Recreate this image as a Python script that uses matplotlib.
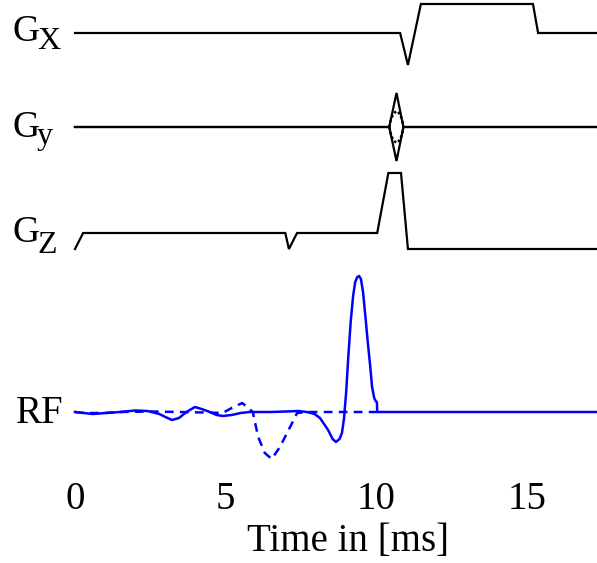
import numpy as np
import matplotlib
matplotlib.use("Agg")
import matplotlib.pyplot as plt

# ===== data (time in ms, amplitude in arbitrary units ~ pixels) =====
gx_t = [0, 10.79, 11.05, 11.48, 15.2, 15.37, 17.4]
gx_a = [0, 0, -32, 29, 29, 0, 0]

gy_t = [0, 10.43, 10.67, 10.9, 17.4]
gy_a = [0, 0, 34, 0, 0]
gy_inner_t = [10.43, 10.48, 10.56, 10.67, 10.78, 10.86, 10.9]
gy_inner_a = [0, 7, 13, 16, 13, 7, 0]

gz_t = [0, 0.27, 6.98, 7.1, 7.37, 10.03, 10.4, 10.82, 11.05, 17.4]
gz_a = [-16, 0, 0, -16, 0, 0, 60, 60, -16, -16]

rf_re_t = [0.0, 0.3, 0.6, 1.0, 1.5, 2.0, 2.4, 2.8, 3.0, 3.22, 3.45, 3.7, 3.98,
           4.2, 4.48, 4.7, 4.91, 5.2, 5.5, 5.8, 6.5, 7.0, 7.4, 7.7, 7.95, 8.13,
           8.4, 8.55, 8.66, 8.78, 8.86, 8.93, 9.0, 9.07, 9.15, 9.23, 9.3, 9.37,
           9.43, 9.49, 9.56, 9.64, 9.72, 9.8, 9.86, 9.93, 9.98, 10.02, 10.03, 17.4]
rf_re_a = [0, -1, -2, -1, 0, 1.5, 1, -2, -5, -8, -6, 0, 5,
           3, 0, -3, -4, -3, -1, 0, 0, 0.5, 1, 0, -2, -6,
           -18, -27, -30, -27, -21, -6, 20, 55, 90, 116, 130, 135,
           136, 133, 120, 95, 69, 45, 25, 14, 11, 10, 0, 0]

rf_im_t = [0.0, 0.3, 1.0, 1.5, 2.5, 3.5, 4.3, 4.9, 5.2, 5.55, 5.75, 5.9, 6.08,
           6.3, 6.53, 6.8, 7.14, 7.37, 7.7, 10.03]
rf_im_a = [0, -1, -1, 0, 0.5, 0, -0.5, -1, 4, 9, 4, 0, -25,
           -41, -47, -35, -15, -1, 0, 0]

ticks = [0, 5, 10, 15]

# channel baselines (pixel rows in the figure, used as vertical offsets)
y_gx, y_gy, y_gz, y_rf = 33, 127, 233, 412

plt.rcParams['font.family'] = ['Liberation Serif', 'DejaVu Serif']

fig = plt.figure(figsize=(5.97, 5.63), dpi=100)
ax = fig.add_axes([0, 93 / 563, 1, 470 / 563])
px = 30.13  # pixels per ms
ax.set_xlim(-75 / px, (597 - 75) / px)
ax.set_ylim(-470, 0)

k = dict(color="black", lw=1.6, solid_joinstyle="miter")
ax.plot(gx_t, -y_gx + np.array(gx_a), **k)
ax.plot(gy_t, -y_gy + np.array(gy_a), **k)
ax.plot(gy_t, -y_gy - np.array(gy_a), **k)
ax.plot(gy_inner_t, -y_gy + np.array(gy_inner_a), color="black", lw=1.8, ls=(0, (1, 1)))
ax.plot(gy_inner_t, -y_gy - np.array(gy_inner_a), color="black", lw=1.8, ls=(0, (1, 1)))
ax.plot(gz_t, -y_gz + np.array(gz_a), **k)

ax.plot(rf_im_t, -y_rf + np.array(rf_im_a), color="blue", lw=1.8,
        ls=(0, (3.5, 2.5)))
ax.plot(rf_re_t, -y_rf + np.array(rf_re_a), color="blue", lw=1.8)

# channel labels
def chan_label(base_g, main, sub, base_sub):
    ax.text((12 - 75) / px, -base_g, main, fontsize=27, va="baseline", ha="left")
    ax.text((37 - 75) / px, -base_sub, sub, fontsize=23, va="baseline", ha="left")

chan_label(41, "G", "X", 49)
chan_label(137, "G", "y", 144)
chan_label(242, "G", "Z", 253)
ax.text((16 - 75) / px, -423, "RF", fontsize=28, va="baseline", ha="left")

# axis
ax.set_xticks(ticks)
ax.set_xticklabels([str(t) for t in ticks], fontsize=28)
ax.tick_params(axis="x", length=0, pad=8)
ax.set_yticks([])
for s in ax.spines.values():
    s.set_visible(False)
ax.set_xlabel("Time in [ms]", fontsize=28)
ax.xaxis.set_label_coords(348 / 597, -0.112)

fig.savefig("out.png", dpi=100)
